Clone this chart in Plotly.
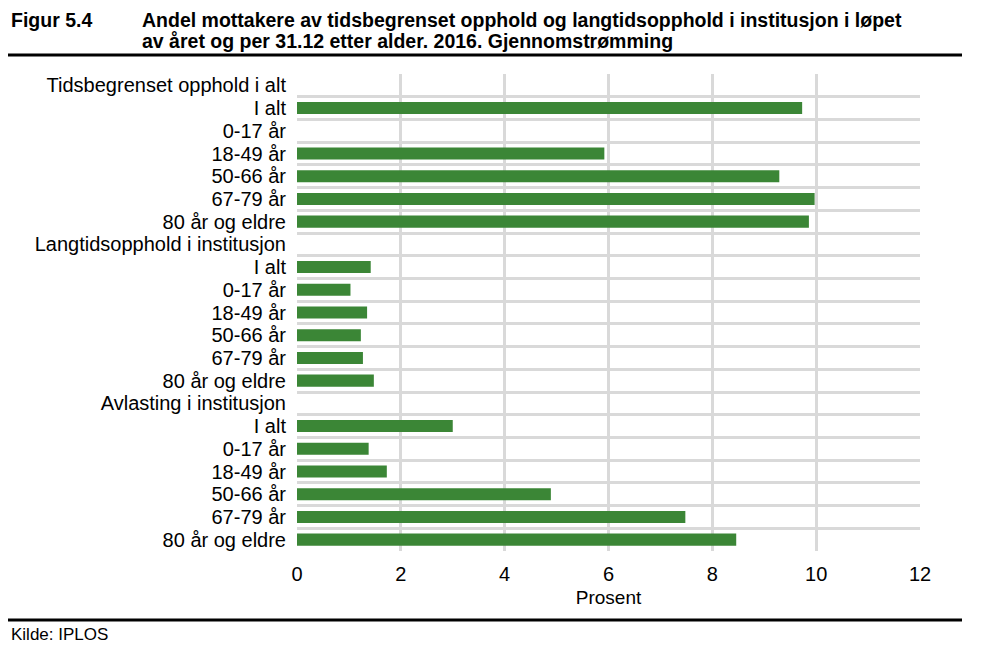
import plotly.graph_objects as go

categories = [
    "Tidsbegrenset opphold i alt", "I alt", "0-17 år", "18-49 år", "50-66 år", "67-79 år", "80 år og eldre",
    "Langtidsopphold i institusjon", "I alt", "0-17 år", "18-49 år", "50-66 år", "67-79 år", "80 år og eldre",
    "Avlasting i institusjon", "I alt", "0-17 år", "18-49 år", "50-66 år", "67-79 år", "80 år og eldre",
]
values = [
    None, 9.73, None, 5.92, 9.29, 9.97, 9.86,
    None, 1.42, 1.03, 1.35, 1.23, 1.27, 1.48,
    None, 3.0, 1.38, 1.73, 4.89, 7.48, 8.46,
]
x_ticks = [0, 2, 4, 6, 8, 10, 12]

positions = list(range(len(categories)))

FONT = "Liberation Sans, Arial, sans-serif"
GREEN = "#3b8636"
GRID = "#d9d9d9"

OFF = 8  # page body margin
W, H = 989 - OFF, 667 - OFF
L, R, T, B = 297 - OFF, 920 - OFF, 74 - OFF, 551 - OFF

def px(x):
    return (x - OFF - L) / (R - L)

def py(y):
    return (B - (y - OFF)) / (B - T)

fig = go.Figure(go.Bar(
    x=values, y=positions, orientation="h",
    marker=dict(color=GREEN, line=dict(width=0)),
    width=0.53,
))

fig.update_layout(
    width=W, height=H,
    margin=dict(l=L, r=W - R, t=T, b=H - B),
    paper_bgcolor="white", plot_bgcolor="white",
    font=dict(family=FONT, size=20, color="black"),
    showlegend=False,
    xaxis=dict(
        range=[0, 12], tickvals=x_ticks, showgrid=True, gridcolor=GRID, gridwidth=3,
        zeroline=False, showline=False, ticks="", tickfont=dict(size=20),
        ticklabelstandoff=9,
        title=dict(text="Prosent", font=dict(size=19), standoff=6),
    ),
    yaxis=dict(
        range=[20.5, -0.5], tickvals=positions, ticktext=categories,
        showgrid=False, zeroline=False, showline=False, ticks="",
        ticklabelstandoff=10, tickfont=dict(size=20),
        minor=dict(tickvals=[i - 0.5 for i in range(len(categories) + 1)],
                   showgrid=True, gridcolor=GRID, gridwidth=3, ticks=""),
    ),
    shapes=[
        dict(type="line", xref="paper", yref="paper", x0=px(4), x1=px(962), y0=py(55), y1=py(55),
             line=dict(color="black", width=3)),
        dict(type="line", xref="paper", yref="paper", x0=px(4), x1=px(962), y0=py(620), y1=py(620),
             line=dict(color="black", width=3)),
    ],
    annotations=[
        dict(text="<b>Figur 5.4</b>", xref="paper", yref="paper", x=px(9), y=py(19.5),
             xanchor="left", yanchor="middle", showarrow=False, font=dict(size=19.5)),
        dict(text="<b>Andel mottakere av tidsbegrenset opphold og langtidsopphold i institusjon i løpet</b>",
             xref="paper", yref="paper", x=px(140), y=py(19.5),
             xanchor="left", yanchor="middle", showarrow=False, font=dict(size=19.5)),
        dict(text="<b>av året og per 31.12 etter alder. 2016. Gjennomstrømming</b>",
             xref="paper", yref="paper", x=px(140), y=py(41),
             xanchor="left", yanchor="middle", showarrow=False, font=dict(size=19.5)),
        dict(text="Kilde: IPLOS", xref="paper", yref="paper", x=px(9), y=py(634),
             xanchor="left", yanchor="middle", showarrow=False, font=dict(size=17)),
    ],
)

fig.write_html("out.html")
